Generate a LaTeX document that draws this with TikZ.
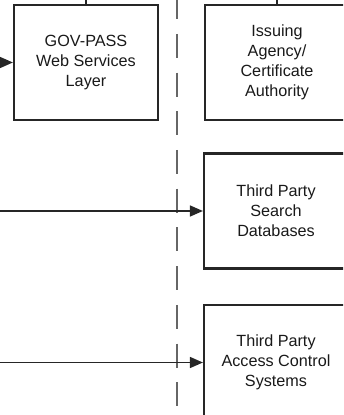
\documentclass[tikz,border=0pt]{standalone}
\usepackage{fontspec}
\setmainfont{Liberation Sans}
\usetikzlibrary{arrows.meta,positioning}

\begin{document}
\begin{tikzpicture}[x=0.5pt, y=-0.5pt,
    sysbox/.style={rectangle, draw=black!85, line width=1.1pt, minimum width=72pt, minimum height=57.5pt,
        align=center, inner sep=0pt, text=black!90, font=\fontsize{8.1}{10}\selectfont},
    flow/.style={-{Triangle[length=6.5pt, width=5.5pt]}, line width=0.8pt, draw=black!85},
    boundary/.style={draw=black!60, line width=1pt, dash pattern=on 12pt off 7.35pt}]
    % Frame of the (cropped) view
    \useasboundingbox (0,0) rectangle (343,415);
    \clip (0,0) rectangle (343,415);

    % Systems
    \node[sysbox] (gov) at (86,62.5) {GOV-PASS\\Web Services\\Layer};
    \node[sysbox] (issuer) at (277,62.5) {Issuing\\Agency/\\Certificate\\Authority};
    \node[sysbox] (search) at (276,211) {Third Party\\Search\\Databases};
    \node[sysbox] (access) at (276,362.5) {Third Party\\Access Control\\Systems};

    % Free ends outside the view
    \coordinate (govup) at (86,-10);
    \coordinate (issuerup) at (277,-10);
    \coordinate (inA) at (-10,62.5);
    \coordinate (inB) at (-10,211);
    \coordinate (inC) at (-10,362.5);
    \coordinate (bndtop) at (177,-4.8);
    \coordinate (bndbot) at (177,430);

    % Trust boundary
    \draw[boundary] (bndtop) -- (bndbot);

    % Connections
    \draw[line width=0.9pt, draw=black!85] (gov) -- (govup);
    \draw[line width=0.9pt, draw=black!85] (issuer) -- (issuerup);
    \draw[flow] (inA) -- (gov);
    \draw[flow] (inB) -- (search);
    \draw[flow] (inC) -- (access);
\end{tikzpicture}
\end{document}
